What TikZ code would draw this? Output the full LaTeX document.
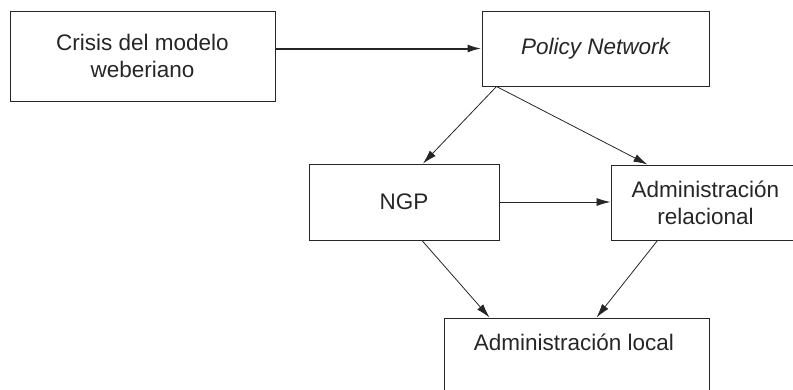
\documentclass[tikz,border=0pt]{standalone}
\usepackage{fontspec}
\setmainfont{Liberation Sans}
\usetikzlibrary{arrows.meta,calc}
\begin{document}
\begin{tikzpicture}[x=1pt,y=-1pt,
  box/.style={draw=black!85, line width=1pt, inner sep=0pt, text=black!85, align=center,
    font=\fontsize{22.5}{27}\selectfont},
  lbl/.style={inner sep=0pt, text=black!85, font=\fontsize{22.5}{27}\selectfont},
  arr/.style={-{Latex[length=14pt,width=8pt]}, line width=0.8pt, draw=black!85},
  thickarr/.style={-{Latex[length=14pt,width=8pt]}, line width=2pt, draw=black!85}]
\useasboundingbox (0,0) rectangle (793,389);
\clip (0,0) rectangle (793,389);
\node[box, minimum width=265pt, minimum height=90pt] (crisis) at (142.5,56) {Crisis del modelo\\weberiano};
\node[box, minimum width=227pt, minimum height=75pt] (policy) at (595.5,48.5) {\itshape Policy Network};
\node[box, minimum width=190pt, minimum height=76pt] (ngp) at (404,202) {NGP};
\node[box, minimum width=189pt, minimum height=75pt] (ar) at (705.5,202.5) {Administración\\relacional};
\node[box, minimum width=265pt, minimum height=100pt] (al) at (576.5,368) {};
\node[lbl] (altxt) at (574,342) {Administración local};
\draw[thickarr] (crisis.east |- policy.west) -- (policy.west);
\draw[arr] ($(policy.south west)+(15,0)$) -- ($(ngp.north)+(19,0)$);
\draw[arr] ($(policy.south west)+(15,0)$) -- ($(ar.north west)+(37,0)$);
\draw[arr] (ngp.east) -- (ar.west |- ngp.east);
\draw[arr] ($(ngp.south)+(18,0)$) -- ($(al.north west)+(46,0)$);
\draw[arr] ($(ar.south west)+(47,0)$) -- ($(al.north west)+(153,0)$);
\end{tikzpicture}
\end{document}
